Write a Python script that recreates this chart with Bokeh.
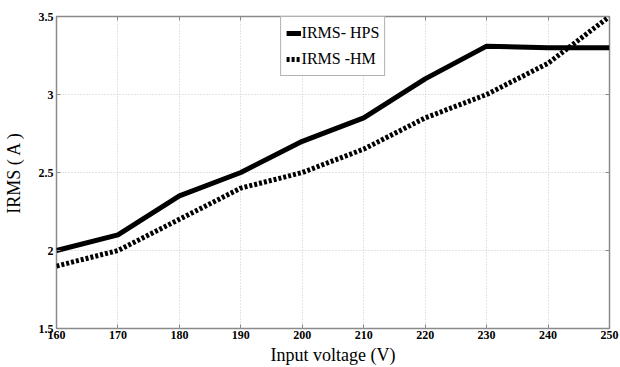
from bokeh.plotting import figure
from bokeh.models import Range1d, FixedTicker, LinearAxis, Legend, LegendItem
from bokeh.embed import file_html
from bokeh.resources import INLINE

voltage = [160, 170, 180, 190, 200, 210, 220, 230, 240, 250]
irms_hps = [2.0, 2.1, 2.35, 2.5, 2.7, 2.85, 3.1, 3.31, 3.30, 3.30]
irms_hm = [1.9, 2.0, 2.2, 2.4, 2.5, 2.65, 2.85, 3.0, 3.2, 3.5]
x_ticks = [160, 170, 180, 190, 200, 210, 220, 230, 240, 250]
y_ticks = [1.5, 2.0, 2.5, 3.0, 3.5]
y_tick_labels = {1.5: "1.5", 2: "2", 2.5: "2.5", 3: "3", 3.5: "3.5"}

p = figure(width=620, height=367, output_backend="svg", toolbar_location=None,
           x_range=Range1d(160, 250), y_range=Range1d(1.5, 3.5),
           min_border_left=54, min_border_right=11, min_border_top=16, min_border_bottom=10)

p.background_fill_color = "white"
p.border_fill_color = "white"
p.outline_line_color = "#8a8a8a"
p.outline_line_width = 1.5

for ax in [p.xaxis[0], p.yaxis[0]]:
    ax.axis_line_color = None
    ax.major_tick_in = 4
    ax.major_tick_out = 0
    ax.minor_tick_line_color = None
    ax.major_tick_line_color = "#8a8a8a"
    ax.major_label_text_font = "Liberation Sans Narrow"
    ax.major_label_text_font_style = "bold"
    ax.major_label_text_font_size = "12px"
    ax.major_label_text_color = "black"
    ax.axis_label_text_font = "Liberation Serif"
    ax.axis_label_text_font_style = "normal"
    ax.axis_label_text_font_size = "18px"
    ax.axis_label_text_color = "black"

p.xaxis[0].ticker = FixedTicker(ticks=x_ticks)
p.yaxis[0].ticker = FixedTicker(ticks=y_ticks)
p.yaxis[0].major_label_overrides = y_tick_labels
p.xaxis[0].axis_label = "Input voltage (V)"
p.yaxis[0].axis_label = "IRMS ( A )"
p.xaxis[0].major_label_standoff = 2
p.yaxis[0].major_label_standoff = 3
p.xaxis[0].axis_label_standoff = 3
p.yaxis[0].axis_label_standoff = 12

for loc, ticks in [("right", y_ticks), ("above", x_ticks)]:
    ax = LinearAxis(ticker=FixedTicker(ticks=ticks),
                    major_label_overrides={t: "" for t in ticks},
                    axis_line_color=None,
                    major_tick_in=4, major_tick_out=0, minor_tick_line_color=None,
                    major_tick_line_color="#8a8a8a", major_label_standoff=0)
    p.add_layout(ax, loc)

p.xgrid.ticker = FixedTicker(ticks=x_ticks)
p.ygrid.ticker = FixedTicker(ticks=y_ticks)
p.grid.grid_line_color = "#c8c8c8"
p.grid.grid_line_dash = "1 2"
p.grid.grid_line_width = 1

r1 = p.line(voltage, irms_hps, line_color="black", line_width=5)
r2 = p.line(voltage, irms_hm, line_color="black", line_width=5, line_dash="3 2", line_cap="butt")

legend = Legend(items=[LegendItem(label="IRMS- HPS", renderers=[r1]),
                       LegendItem(label="IRMS -HM", renderers=[r2])],
                location="top")
legend.label_text_font = "Liberation Serif"
legend.label_text_font_size = "16px"
legend.label_text_color = "black"
legend.glyph_width = 15
legend.glyph_height = 22
legend.label_standoff = 1
legend.spacing = 4
legend.padding = 5
legend.margin = 0
legend.border_line_color = "#666666"
legend.border_line_width = 1
legend.background_fill_alpha = 1
p.add_layout(legend, "center")

open("out.html", "w").write(file_html(p, INLINE))
